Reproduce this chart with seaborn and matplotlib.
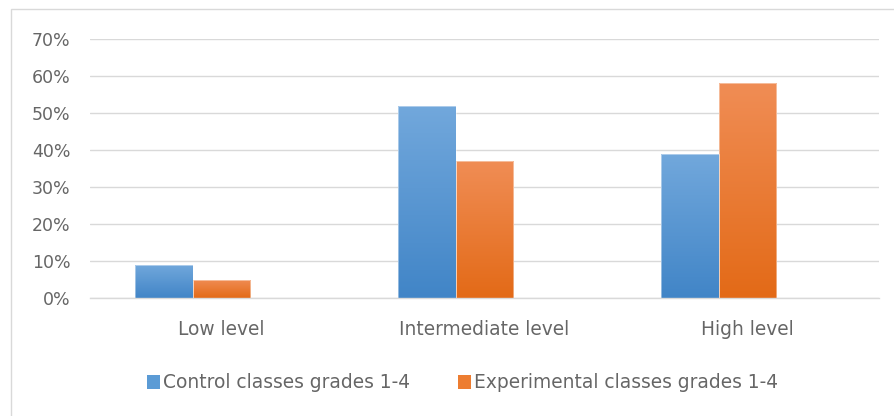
import matplotlib
matplotlib.use("Agg")
import matplotlib.pyplot as plt
import seaborn as sns
import pandas as pd
import numpy as np
from matplotlib.patches import Rectangle, Patch
from matplotlib.colors import LinearSegmentedColormap

categories = ["Low level", "Intermediate level", "High level"]
series_names = ["Control classes grades 1-4", "Experimental classes grades 1-4"]
control = [0.09, 0.52, 0.39]
experimental = [0.05, 0.37, 0.58]
yticks = [0.0, 0.1, 0.2, 0.3, 0.4, 0.5, 0.6, 0.7]
ytick_labels = ["0%", "10%", "20%", "30%", "40%", "50%", "60%", "70%"]

df = pd.DataFrame({
    "category": categories * 2,
    "series": [series_names[0]] * 3 + [series_names[1]] * 3,
    "value": control + experimental,
})

sns.set_theme(style="white")
plt.rcParams["font.family"] = ["DejaVu Sans"]

blue = "#5B9BD5"
orange = "#ED7D31"
text_col = "#666666"
fs_y = 12.5
fs = 13.4

fig = plt.figure(figsize=(8.94, 4.16), dpi=100)
ax = fig.add_axes([90 / 894, 118 / 416, 789 / 894, 259 / 416])

# third (empty) slot reproduces the original's left-shifted bar groups
hue_order = series_names + ["_empty"]
sns.barplot(data=df, x="category", y="value", hue="series", hue_order=hue_order,
            palette=[blue, orange, "#A5A5A5"], width=0.66, gap=0, ax=ax,
            edgecolor="none", legend=False, saturation=1)

ax.set_ylim(0, 0.7)
ax.set_xlim(-0.5, 2.5)
ax.set_yticks(yticks)
ax.set_yticklabels(ytick_labels)
ax.yaxis.grid(True, color="#D9D9D9", linewidth=1)
ax.set_axisbelow(True)
for s in ["left", "right", "top"]:
    ax.spines[s].set_visible(False)
ax.spines["bottom"].set_color("#D9D9D9")
ax.spines["bottom"].set_linewidth(1)
ax.tick_params(axis="y", length=0, pad=14, labelsize=fs_y, labelcolor=text_col)
ax.tick_params(axis="x", length=0, pad=16, labelsize=fs, labelcolor=text_col)
ax.set_xlabel("")
ax.set_ylabel("")

# gradient overlay on bars
gradients = {
    "b": LinearSegmentedColormap.from_list("b", ["#4185C7", "#72A8DC"]),
    "o": LinearSegmentedColormap.from_list("o", ["#E36A17", "#F08D55"]),
}
grad = np.linspace(0, 1, 256).reshape(-1, 1)
for bar in list(ax.patches):
    h = bar.get_height()
    if not np.isfinite(h) or h <= 0:
        continue
    fc = matplotlib.colors.to_hex(bar.get_facecolor())
    cmap = gradients["b"] if fc.lower() == blue.lower() else gradients["o"]
    x0 = bar.get_x()
    w = bar.get_width()
    im = ax.imshow(grad, cmap=cmap, aspect="auto", origin="lower",
                   extent=[x0, x0 + w, 0, h], zorder=bar.get_zorder() + 0.1)
    im.set_clip_path(bar)
    edge = Rectangle((x0, 0), w, h, fill=False, edgecolor="white",
                     linewidth=0.6, alpha=0.5, zorder=bar.get_zorder() + 0.2)
    ax.add_patch(edge)
ax.set_xlim(-0.5, 2.5)
ax.set_ylim(0, 0.7)

handles = [Patch(facecolor=blue, edgecolor="none"), Patch(facecolor=orange, edgecolor="none")]
leg = fig.legend(handles, series_names, loc="center left",
                 bbox_to_anchor=(147 / 894, 1 - 383 / 416), ncol=2,
                 frameon=False, fontsize=fs, handlelength=0.7, handleheight=0.7,
                 handletextpad=0.16, columnspacing=2.6, borderpad=0, borderaxespad=0)
for t in leg.get_texts():
    t.set_color(text_col)

fig.patches.append(Rectangle((10.5 / 894, -0.1), 1.0, (416 - 8.5) / 416 + 0.1,
                             transform=fig.transFigure,
                             fill=False, edgecolor="#D9D9D9", linewidth=1))

fig.savefig("out.png", dpi=100)
